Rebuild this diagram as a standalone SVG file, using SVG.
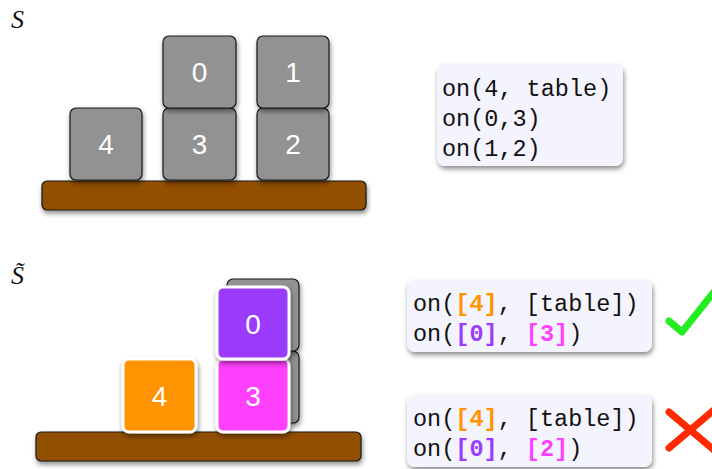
<svg xmlns="http://www.w3.org/2000/svg" width="712" height="469" viewBox="0 0 712 469">
<defs>
<filter id="sh" x="-20%" y="-20%" width="150%" height="160%">
<feDropShadow dx="1" dy="3" stdDeviation="2.5" flood-color="#000" flood-opacity="0.45"/>
</filter>
</defs>
<style>
.blk{fill:#929292;stroke:#1a1a1a;stroke-width:1.2}
.tbl{fill:#924f00;stroke:#1a1a1a;stroke-width:1.2}
.num{font-family:"Liberation Sans",Arial,sans-serif;font-size:28px;fill:#fff;text-anchor:middle}
.box{fill:#f4f4fe}
.code{font-family:"Liberation Mono","Courier New",monospace;font-size:23.5px;fill:#111}
.lbl{font-family:"Liberation Serif","Times New Roman",serif;font-style:italic;font-size:26px;fill:#111}
.o{fill:#ff9300;font-weight:bold}
.p{fill:#9a3bfd;font-weight:bold}
.m{fill:#ff40ff;font-weight:bold}
.wb{stroke:#fff;stroke-width:3}
</style>
<text class="lbl" x="11" y="28">S</text>
<g id="top-table"><rect class="tbl" x="42" y="181" width="324" height="29" rx="5" filter="url(#sh)"/></g>
<g id="top-b4"><rect class="blk" x="70" y="108" width="72" height="72" rx="6" filter="url(#sh)"/><text class="num" x="106" y="154">4</text></g>
<g id="top-b3"><rect class="blk" x="163" y="108" width="73" height="72" rx="6" filter="url(#sh)"/><text class="num" x="199.5" y="154">3</text></g>
<g id="top-b2"><rect class="blk" x="257" y="108" width="72" height="72" rx="6" filter="url(#sh)"/><text class="num" x="293" y="154">2</text></g>
<g id="top-b0"><rect class="blk" x="163" y="36" width="73" height="72" rx="6" filter="url(#sh)"/><text class="num" x="199.5" y="82">0</text></g>
<g id="top-b1"><rect class="blk" x="257" y="36" width="72" height="72" rx="6" filter="url(#sh)"/><text class="num" x="293" y="82">1</text></g>
<g id="top-code"><rect class="box" x="437" y="64" width="186" height="102" rx="8" filter="url(#sh)"/>
<text class="code" x="442" y="96">on(4, table)</text>
<text class="code" x="442" y="126">on(0,3)</text>
<text class="code" x="442" y="156">on(1,2)</text></g>

<text class="lbl" x="11" y="284">S&#x303;</text>
<g id="bot-table"><rect class="tbl" x="36" y="432" width="325" height="29" rx="5" filter="url(#sh)"/></g>
<g id="bot-ghost"><rect class="blk" x="227" y="351" width="72" height="72" rx="6" filter="url(#sh)"/><rect class="blk" x="227" y="279" width="72" height="72" rx="6" filter="url(#sh)"/></g>
<g id="bot-b4"><rect class="wb" x="123" y="359" width="73" height="73" rx="6" fill="#ff9300" filter="url(#sh)"/><text class="num" x="159.5" y="406">4</text></g>
<g id="bot-b3"><rect class="wb" x="217" y="359" width="72" height="73" rx="6" fill="#ff40ff" filter="url(#sh)"/><text class="num" x="253" y="406">3</text></g>
<g id="bot-b0"><rect class="wb" x="217" y="287" width="72" height="72" rx="6" fill="#9a3bfd" filter="url(#sh)"/><text class="num" x="253" y="334">0</text></g>
<g id="code-ok"><rect class="box" x="407" y="280" width="245" height="72" rx="8" filter="url(#sh)"/>
<text class="code" x="413" y="311">on(<tspan class="o">[4]</tspan>, [table])</text>
<text class="code" x="413" y="341">on(<tspan class="p">[0]</tspan>, <tspan class="m">[3]</tspan>)</text></g>
<g id="code-bad"><rect class="box" x="407" y="395" width="245" height="72" rx="8" filter="url(#sh)"/>
<text class="code" x="413" y="426">on(<tspan class="o">[4]</tspan>, [table])</text>
<text class="code" x="413" y="456">on(<tspan class="p">[0]</tspan>, <tspan class="m">[2]</tspan>)</text></g>
<g id="check"><polyline points="669,321 682,332 714,292" fill="none" stroke="#22ee22" stroke-width="7" stroke-linecap="round" stroke-linejoin="round"/></g>
<g id="cross" stroke="#ff2a00" stroke-width="7" stroke-linecap="round"><line x1="669" y1="412" x2="714" y2="450"/><line x1="669" y1="448" x2="714" y2="410"/></g>
</svg>
